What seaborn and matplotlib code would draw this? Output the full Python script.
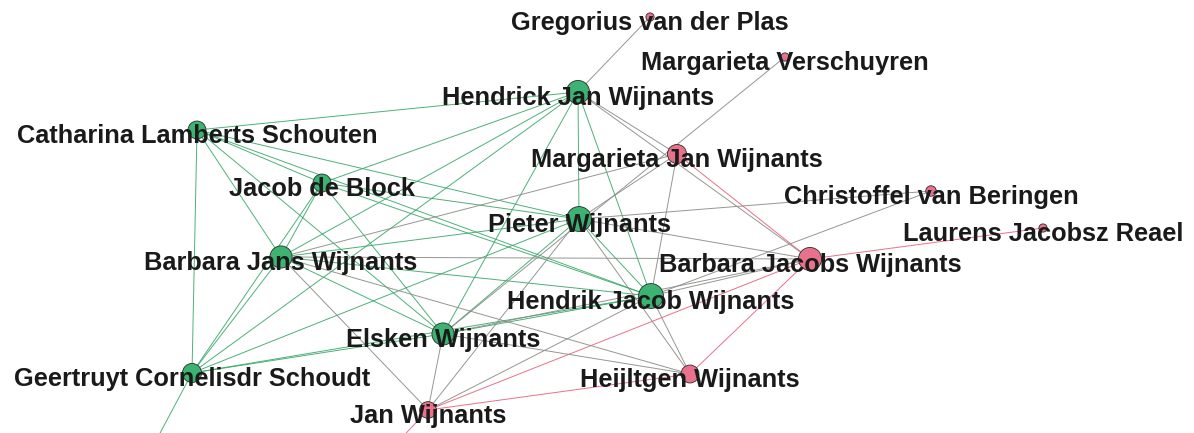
import matplotlib.pyplot as plt
import pandas as pd
import seaborn as sns

# Nodes (layout positions, pixel units, y down)
names = ['Gregorius van der Plas', 'Margarieta Verschuyren', 'Hendrick Jan Wijnants',
         'Catharina Lamberts Schouten', 'Margarieta Jan Wijnants', 'Jacob de Block',
         'Christoffel van Beringen', 'Pieter Wijnants', 'Laurens Jacobsz Reael',
         'Barbara Jans Wijnants', 'Barbara Jacobs Wijnants', 'Hendrik Jacob Wijnants',
         'Elsken Wijnants', 'Geertruyt Cornelisdr Schoudt', 'Heijltgen Wijnants',
         'Jan Wijnants', 'off_a', 'off_b']
pos_x = [650, 785, 578, 197, 677, 322, 931, 579, 1043, 281, 810, 651, 443, 192, 690, 428, 150, 392]
pos_y = [17, 57, 92, 130, 154, 183, 191, 219, 228, 257, 259, 296, 334, 373, 374, 410, 452, 448]
group = ['b', 'b', 'a', 'a', 'b', 'a', 'b', 'a', 'b', 'a', 'b', 'a', 'a', 'a', 'b', 'b', 'a', 'b']
degree = [1, 1, 12, 7, 8, 7, 2, 14, 1, 11, 12, 14, 11, 8, 7, 6, 1, 1]

greens = ['Hendrick Jan Wijnants', 'Catharina Lamberts Schouten', 'Jacob de Block',
          'Pieter Wijnants', 'Barbara Jans Wijnants', 'Hendrik Jacob Wijnants',
          'Elsken Wijnants', 'Geertruyt Cornelisdr Schoudt']
other_edges = [
    ('Hendrick Jan Wijnants', 'Gregorius van der Plas'),
    ('Margarieta Verschuyren', 'Elsken Wijnants'),
    ('Hendrick Jan Wijnants', 'Margarieta Jan Wijnants'),
    ('Hendrick Jan Wijnants', 'Barbara Jacobs Wijnants'),
    ('Margarieta Jan Wijnants', 'Barbara Jans Wijnants'),
    ('Margarieta Jan Wijnants', 'Pieter Wijnants'),
    ('Margarieta Jan Wijnants', 'Hendrik Jacob Wijnants'),
    ('Margarieta Jan Wijnants', 'Barbara Jacobs Wijnants'),
    ('Christoffel van Beringen', 'Pieter Wijnants'),
    ('Christoffel van Beringen', 'Hendrik Jacob Wijnants'),
    ('Barbara Jans Wijnants', 'Barbara Jacobs Wijnants'),
    ('Pieter Wijnants', 'Barbara Jacobs Wijnants'),
    ('Hendrik Jacob Wijnants', 'Barbara Jacobs Wijnants'),
    ('Elsken Wijnants', 'Barbara Jacobs Wijnants'),
    ('Barbara Jacobs Wijnants', 'Laurens Jacobsz Reael'),
    ('Barbara Jacobs Wijnants', 'Heijltgen Wijnants'),
    ('Barbara Jacobs Wijnants', 'Jan Wijnants'),
    ('Heijltgen Wijnants', 'Jan Wijnants'),
    ('Heijltgen Wijnants', 'Hendrik Jacob Wijnants'),
    ('Heijltgen Wijnants', 'Pieter Wijnants'),
    ('Heijltgen Wijnants', 'Barbara Jans Wijnants'),
    ('Heijltgen Wijnants', 'Elsken Wijnants'),
    ('Jan Wijnants', 'Elsken Wijnants'),
    ('Jan Wijnants', 'Barbara Jans Wijnants'),
    ('Jan Wijnants', 'Pieter Wijnants'),
    ('Jan Wijnants', 'Hendrik Jacob Wijnants'),
    ('Jan Wijnants', 'off_b'),
    ('Geertruyt Cornelisdr Schoudt', 'off_a'),
]

nodes = pd.DataFrame({'name': names, 'x': pos_x, 'y': pos_y, 'group': group, 'degree': degree})
lookup = nodes.set_index('name')

edges = [(a, b) for i, a in enumerate(greens) for b in greens[i + 1:]] + other_edges

palette = {'a': '#3cb371', 'b': '#e8728c'}
edge_cols = {'aa': '#3aa86a', 'bb': '#e8607f', 'ab': '#8a8a86', 'ba': '#8a8a86'}

fig = plt.figure(figsize=(11.94, 4.33), dpi=100)
ax = fig.add_axes([0, 0, 1, 1])

for a, b in edges:
    na, nb = lookup.loc[a], lookup.loc[b]
    col = edge_cols[na.group + nb.group]
    ax.plot([na.x, nb.x], [na.y, nb.y], color=col, lw=0.7, alpha=0.9, zorder=1)

sns.scatterplot(data=nodes[~nodes.name.str.startswith('off')], x='x', y='y', hue='group',
                size='degree', sizes=(35, 320), palette=palette, edgecolor='#2b2b2b',
                linewidth=0.6, legend=False, ax=ax, zorder=2)

for _, r in nodes.iterrows():
    if r['name'].startswith('off'):
        continue
    ax.text(r.x, r.y + 6, r['name'], ha='center', va='center', fontsize=18.3,
            fontweight='bold', family='Liberation Sans', color='#1a1a1a', zorder=3)

ax.set_xlim(0, 1194)
ax.set_ylim(433, 0)
ax.axis('off')

fig.savefig('out.png', dpi=100)
